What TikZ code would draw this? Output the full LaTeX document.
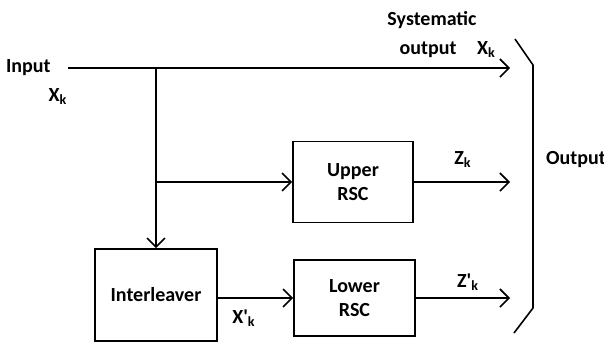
\documentclass[tikz,border=0pt]{standalone}
\usepackage{fontspec}
\setmainfont{Carlito}
\usetikzlibrary{
	positioning				% relative placement
	, arrows.meta				% open barb tips
}

\begin{document}
\begin{tikzpicture}[
		x=0.5pt, y=-0.5pt
		, font=\bfseries
		, block/.style={draw, line width=0.8pt, align=center, inner sep=0pt}
		, baseline/.style={line width=0.8pt}
		, signal/.style={baseline, -{Straight Barb[length=4.5pt, width=9pt]}}
		, tag/.style={inner sep=1pt}]

		%%% Canvas
		\useasboundingbox (0,0) rectangle (604,343);

		%%% Blocks
		\node[block, minimum width=61pt, minimum height=46pt] (interleaver) at (156,295) {Interleaver};
		\node[block, minimum width=60pt, minimum height=40.5pt] (upperrsc) at (353,182) {Upper\\RSC};
		\node[block, minimum width=60.5pt, minimum height=38pt] (lowerrsc) at (354.5,298) {Lower\\RSC};

		%%% Input
		\node[tag, anchor=east] (inputlabel) at (53,68) {Input};
		\node[tag] (inputsym) at (58,97) {X\textsubscript{k}};
		\coordinate (inputstart) at (68,68);
		\coordinate (split) at (156,68);
		\coordinate (systemend) at (510,68);
		\coordinate (branch) at (156,182);

		%% Systematic branch
		\draw[signal] (inputstart) -- (systemend);
		\node[tag] (systematiclabel) at (432,20) {Systematic};
		\node[tag] (outputlabel) at (428,50) {output};
		\node[tag, right=8pt of outputlabel] (systemsym) {X\textsubscript{k}};

		%% To the interleaver and upper encoder
		\draw[signal] (split) -- (interleaver.north);
		\draw[signal] (branch) -- (upperrsc.west);

		%% Upper encoder output
		\coordinate (upperend) at (510,182);
		\draw[signal] (upperrsc.east) -- (upperend);
		\node[tag] (uppersym) at (463,160) {Z\textsubscript{k}};

		%% Interleaved sequence
		\draw[signal] (interleaver.east |- lowerrsc.west) -- (lowerrsc.west);
		\node[tag] (interleavedsym) at (244,318) {X\textquotesingle\textsubscript{k}};

		%% Lower encoder output
		\coordinate (lowerend) at (510,298);
		\draw[signal] (lowerrsc.east) -- (lowerend);
		\node[tag] (lowersym) at (468,282) {Z\textquotesingle\textsubscript{k}};

		%%% Output bracket
		\coordinate (brackettop) at (515,39);
		\coordinate (bracketbottom) at (514,333);
		\draw[baseline] (brackettop) -- (533,65) -- (533,308) -- (bracketbottom);
		\node[tag] (outputtotal) at (576,160) {Output};
	\end{tikzpicture}
\end{document}
